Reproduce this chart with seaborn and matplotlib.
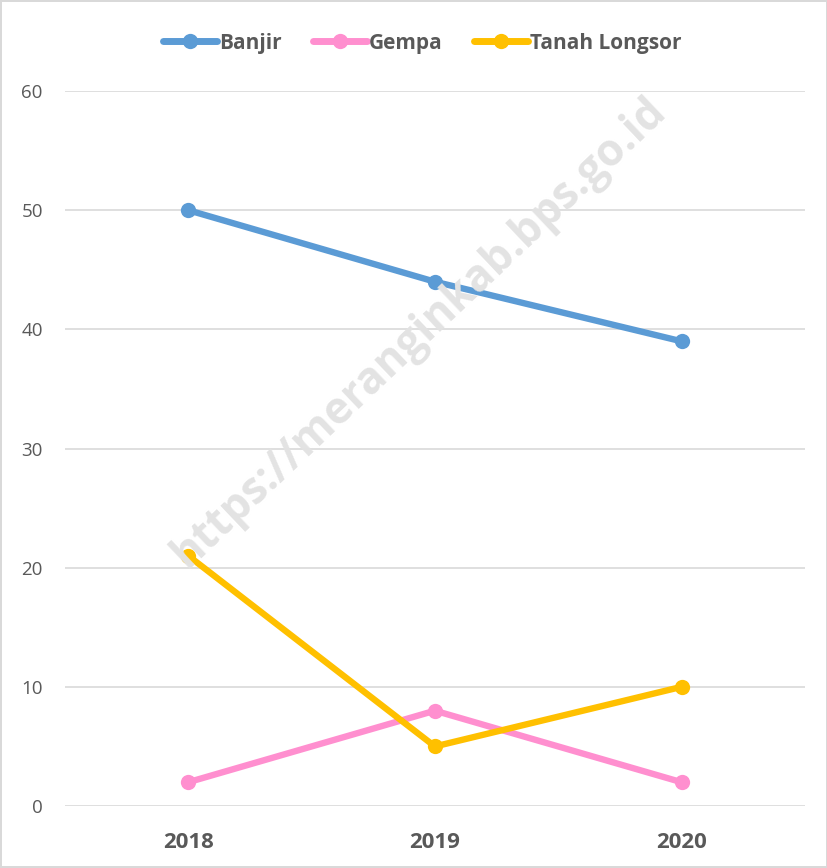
import pandas as pd
import matplotlib
matplotlib.use("Agg")
import matplotlib.pyplot as plt
import seaborn as sns

# data
tahun = ["2018", "2019", "2020"]
banjir = [50, 44, 39]
gempa = [2, 8, 2]
tanah_longsor = [21, 5, 10]
seri = ["Banjir", "Gempa", "Tanah Longsor"]
warna = ["#5B9BD5", "#FF8FCF", "#FFC000"]

df = pd.DataFrame({
    "tahun": tahun * 3,
    "nilai": banjir + gempa + tanah_longsor,
    "jenis": [s for s in seri for _ in tahun],
})

sns.set_theme(style="white")
plt.rcParams["font.family"] = ["Open Sans", "DejaVu Sans"]

fig = plt.figure(figsize=(8.28, 8.68), dpi=100)
fig.patch.set_edgecolor("#d9d9d9")
fig.patch.set_linewidth(1.5)
ax = fig.add_axes([0.0785, 0.0714, 0.8935, 0.8237])

sns.lineplot(data=df, x="tahun", y="nilai", hue="jenis", palette=warna,
             marker="o", markersize=11, markeredgewidth=0, linewidth=4.6,
             ax=ax, zorder=3)

ax.set_xlim(-0.5, 2.5)
ax.set_ylim(0, 60)
ax.set_yticks(range(0, 61, 10))
ax.yaxis.grid(True, color="#d9d9d9", linewidth=1.2)
ax.set_axisbelow(True)
for s in ax.spines.values():
    s.set_visible(False)
ax.set_xlabel("")
ax.set_ylabel("")
ax.tick_params(axis="y", labelsize=13.5, labelcolor="#595959", pad=16, length=0)
ax.tick_params(axis="x", labelsize=16, labelcolor="#595959", pad=19, length=0)
for lbl in ax.get_xticklabels():
    lbl.set_fontweight("bold")

leg = ax.legend(loc="lower center", bbox_to_anchor=(0.483, 1.026), ncol=3,
                frameon=False, fontsize=15, handlelength=2.6,
                handletextpad=0.1, columnspacing=1.5)
for t in leg.get_texts():
    t.set_fontweight("bold")
    t.set_color("#595959")
for h in leg.get_lines():
    h.set_linewidth(5)

# watermark
fig.text(0.507, 0.617, "https://meranginkab.bps.go.id", rotation=43.5,
         fontsize=31.5, fontweight="bold", color="#e3e3e3",
         ha="center", va="center", zorder=0)

fig.savefig("out.png", dpi=100, edgecolor=fig.get_edgecolor())
